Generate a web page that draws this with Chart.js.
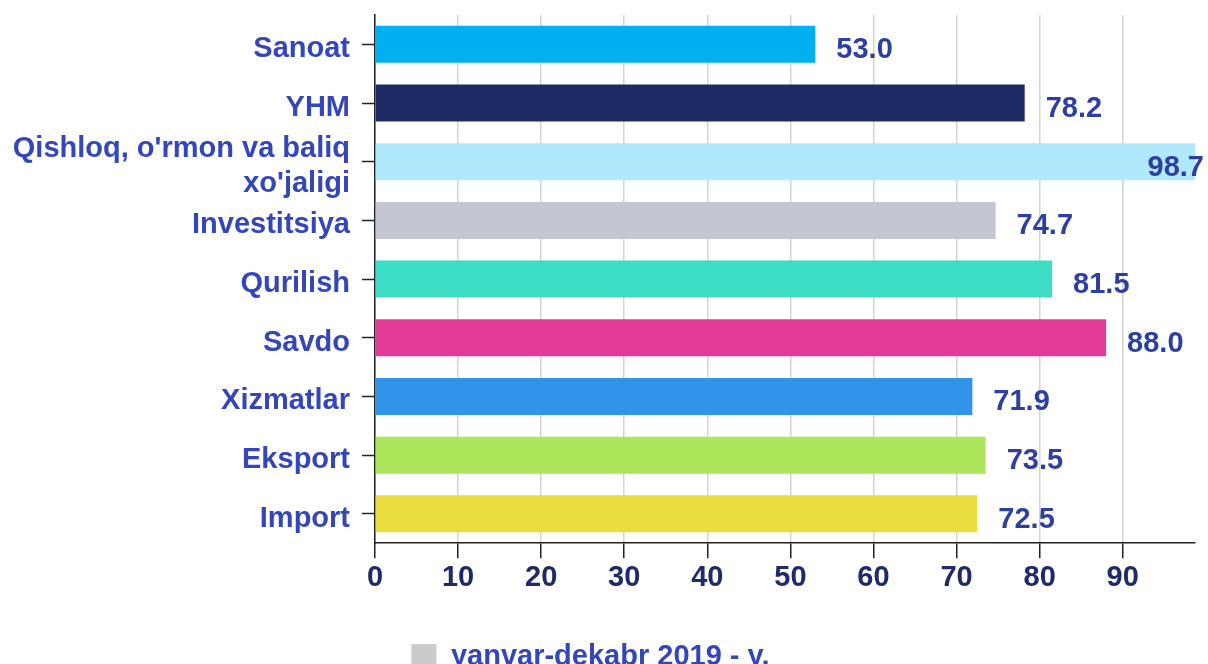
<!DOCTYPE html>
<html>
<head>
<meta charset="utf-8">
<script src="https://cdn.jsdelivr.net/npm/chart.js@4.4.1/dist/chart.umd.min.js"></script>
<style>
  html, body { margin: 0; padding: 0; background: #fff; overflow: hidden; }
  #wrap { position: relative; width: 1208px; height: 681px; }
</style>
</head>
<body>
<div id="wrap"><canvas id="chart"></canvas></div>
<script>
  // categories, top to bottom
  const CATEGORIES = [
    'Sanoat', 'YHM', ["Qishloq, o'rmon va baliq", "xo'jaligi"], 'Investitsiya',
    'Qurilish', 'Savdo', 'Xizmatlar', 'Eksport', 'Import',
  ];
  const VALUES = [53.0, 78.2, 98.7, 74.7, 81.5, 88.0, 71.9, 73.5, 72.5];
  const BAR_COLORS = [
    '#00b0f0', '#1e2a64', '#b0e9fb', '#c4c7d1', '#3ddcc4',
    '#e33a98', '#3194e9', '#ade65a', '#e9dd40',
  ];
  const X_TICKS = [0, 10, 20, 30, 40, 50, 60, 70, 80, 90];
  const SERIES_LABEL = 'yanvar-dekabr 2019 - y.';

  const FONT = "'Liberation Sans', Arial, sans-serif";

  // numbers to the right of each bar (kept inside the canvas)
  const valueLabels = {
    id: 'valueLabels',
    afterDatasetsDraw(chart) {
      const ctx = chart.ctx;
      const meta = chart.getDatasetMeta(0);
      ctx.save();
      ctx.font = `bold 29px ${FONT}`;
      ctx.fillStyle = '#2f3f9f';
      ctx.textBaseline = 'middle';
      ctx.textAlign = 'left';
      meta.data.forEach((bar, i) => {
        const txt = VALUES[i].toFixed(1);
        const w = ctx.measureText(txt).width;
        const x = Math.min(bar.x + 21, chart.width - 4 - w);
        ctx.fillText(txt, x, bar.y + 6);
      });
      ctx.restore();
    },
  };

  // legend sits a little left of the canvas centre in the original
  const legendShift = {
    id: 'legendShift',
    afterInit(chart) {
      const lg = chart.legend;
      if (!lg || lg._shifted) return;
      const orig = lg.draw.bind(lg);
      lg.draw = function () {
        chart.ctx.save();
        chart.ctx.translate(-12, 0);
        orig();
        chart.ctx.restore();
      };
      lg._shifted = true;
    },
  };

  new Chart(document.getElementById('chart'), {
    type: 'bar',
    data: {
      labels: CATEGORIES,
      datasets: [{
        label: SERIES_LABEL,
        data: VALUES,
        backgroundColor: BAR_COLORS,
        barPercentage: 0.63,
        categoryPercentage: 1,
      }],
    },
    options: {
      indexAxis: 'y',
      responsive: true,
      maintainAspectRatio: false,
      animation: false,
      layout: { padding: { top: 0, left: 10, right: 13, bottom: 0 } },
      plugins: {
        tooltip: { enabled: false },
        legend: {
          position: 'bottom',
          labels: {
            boxWidth: 25,
            boxHeight: 25,
            padding: 45,
            color: '#3446b8',
            font: { family: FONT, size: 29, weight: 'bold' },
            generateLabels: () => [{
              text: SERIES_LABEL,
              fillStyle: '#cbcbcb',
              strokeStyle: '#cbcbcb',
              lineWidth: 0,
              fontColor: '#3446b8',
            }],
          },
        },
      },
      scales: {
        x: {
          min: 0,
          max: 98.7,
          afterBuildTicks(scale) {
            scale.ticks = X_TICKS.map((v) => ({ value: v }));
          },
          grid: { color: '#d4d4d4', lineWidth: 1.5, tickLength: 15, tickColor: '#222', tickWidth: 1.5 },
          border: { color: '#222', width: 1.5 },
          ticks: {
            color: '#1f2a66',
            padding: 2,
            font: { family: FONT, size: 29, weight: 'bold' },
          },
        },
        y: {
          afterFit(scale) {
            scale.width = 365;
            scale.paddingTop = 15;
            scale.paddingBottom = 0;
          },
          grid: { offset: false, drawOnChartArea: false, tickLength: 13, tickColor: '#222', tickWidth: 1.5 },
          border: { color: '#222', width: 1.5 },
          ticks: {
            autoSkip: false,
            labelOffset: 5,
            color: '#3446b8',
            padding: 12,
            font: { family: FONT, size: 29, weight: 'bold', lineHeight: 1.2 },
          },
        },
      },
    },
    plugins: [valueLabels, legendShift],
  });
</script>
</body>
</html>
